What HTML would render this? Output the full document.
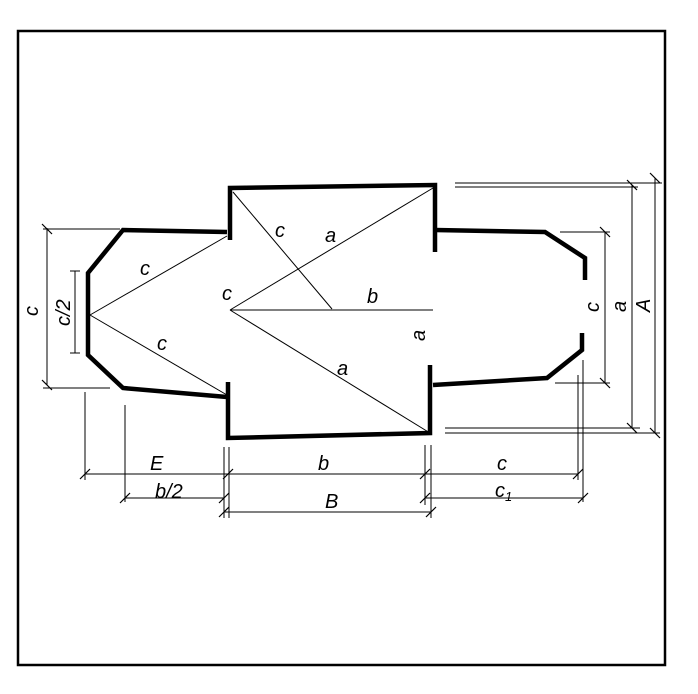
<!DOCTYPE html>
<html><head><meta charset="utf-8"><style>
html,body{margin:0;padding:0;background:#fff;}
svg{display:block;}
text{font-family:"Liberation Sans",sans-serif;font-style:italic;font-size:20px;fill:#000;}
</style></head><body>
<svg width="698" height="694" viewBox="0 0 698 694" xmlns="http://www.w3.org/2000/svg">
<rect x="18" y="31" width="647" height="634" fill="none" stroke="#000" stroke-width="2.5"/>
<g fill="none" stroke="#000" stroke-width="4.5" stroke-linejoin="miter">
<polyline points="230,240 230,188 435,185 435,252"/>
<polyline points="228,382 228,438 430,433 430,365"/>
<polyline points="227,232 123,230 88,273 88,355 123,388 227,397"/>
<polyline points="435,230 545,232 585,258 585,280"/>
<polyline points="582,333 582,350 547,378 433,385"/>
</g>
<g stroke="#000" stroke-width="1" fill="none">
<line x1="90" y1="315" x2="227" y2="236"/>
<line x1="90" y1="315" x2="227" y2="395"/>
<line x1="230" y1="310" x2="433" y2="188"/>
<line x1="230" y1="310" x2="430" y2="433"/>
<line x1="230" y1="310" x2="433" y2="310"/>
<line x1="233" y1="192" x2="332" y2="309"/>
<!-- right dims -->
<line x1="455" y1="183" x2="662" y2="183"/>
<line x1="455" y1="187" x2="638" y2="187"/>
<line x1="445" y1="428" x2="640" y2="428"/>
<line x1="445" y1="433" x2="660" y2="433"/>
<line x1="560" y1="232" x2="610" y2="232"/>
<line x1="555" y1="383" x2="610" y2="383"/>
<line x1="605" y1="232" x2="605" y2="383"/>
<line x1="632" y1="185" x2="632" y2="428"/>
<line x1="655" y1="178" x2="655" y2="433"/>
<!-- left dims -->
<line x1="43" y1="229" x2="120" y2="229"/>
<line x1="43" y1="388" x2="110" y2="388"/>
<line x1="47" y1="228" x2="47" y2="385"/>
<line x1="70" y1="271" x2="80" y2="271"/>
<line x1="70" y1="353" x2="80" y2="353"/>
<line x1="75" y1="271" x2="75" y2="353"/>
<!-- bottom dims -->
<line x1="85" y1="392" x2="85" y2="480"/>
<line x1="125" y1="405" x2="125" y2="502"/>
<line x1="224" y1="447" x2="224" y2="518"/>
<line x1="229" y1="447" x2="229" y2="518"/>
<line x1="425" y1="445" x2="425" y2="505"/>
<line x1="431" y1="445" x2="431" y2="518"/>
<line x1="578" y1="375" x2="578" y2="480"/>
<line x1="583" y1="360" x2="583" y2="502"/>
<line x1="85" y1="474" x2="578" y2="474"/>
<line x1="125" y1="498" x2="224" y2="498"/>
<line x1="425" y1="498" x2="583" y2="498"/>
<line x1="224" y1="512" x2="431" y2="512"/>
<!-- ticks -->
<g stroke-width="1.2">
<line x1="80" y1="479" x2="90" y2="469"/><line x1="223" y1="479" x2="233" y2="469"/><line x1="420" y1="479" x2="430" y2="469"/><line x1="573" y1="479" x2="583" y2="469"/>
<line x1="120" y1="503" x2="130" y2="493"/><line x1="219" y1="503" x2="229" y2="493"/><line x1="420" y1="503" x2="430" y2="493"/><line x1="578" y1="503" x2="588" y2="493"/>
<line x1="219" y1="517" x2="229" y2="507"/><line x1="426" y1="517" x2="436" y2="507"/>
<line x1="42" y1="224" x2="52" y2="234"/><line x1="42" y1="380" x2="52" y2="390"/>
<line x1="600" y1="227" x2="610" y2="237"/><line x1="600" y1="378" x2="610" y2="388"/>
<line x1="627" y1="180" x2="637" y2="190"/><line x1="627" y1="423" x2="637" y2="433"/>
<line x1="650" y1="173" x2="660" y2="183"/><line x1="650" y1="428" x2="660" y2="438"/>
</g>
</g>
<text x="140" y="275">c</text>
<text x="157" y="350">c</text>
<text x="222" y="300" font-style="normal">c</text>
<text x="275" y="237">c</text>
<text x="325" y="242">a</text>
<text x="367" y="303">b</text>
<text x="410" y="340" transform="rotate(-90 418 333)">a</text>
<text x="337" y="375">a</text>
<text x="150" y="470">E</text>
<text x="318" y="470">b</text>
<text x="497" y="470">c</text>
<text x="155" y="498">b/2</text>
<text x="325" y="508">B</text>
<text x="495" y="497">c<tspan font-size="13" dy="4">1</tspan></text>
<text transform="translate(38,316) rotate(-90)">c</text>
<text transform="translate(70,326) rotate(-90)">c/2</text>
<text transform="translate(599,312) rotate(-90)">c</text>
<text transform="translate(626,312) rotate(-90)">a</text>
<text transform="translate(650,312) rotate(-90)" font-style="normal">A</text>
</svg>
</body></html>
